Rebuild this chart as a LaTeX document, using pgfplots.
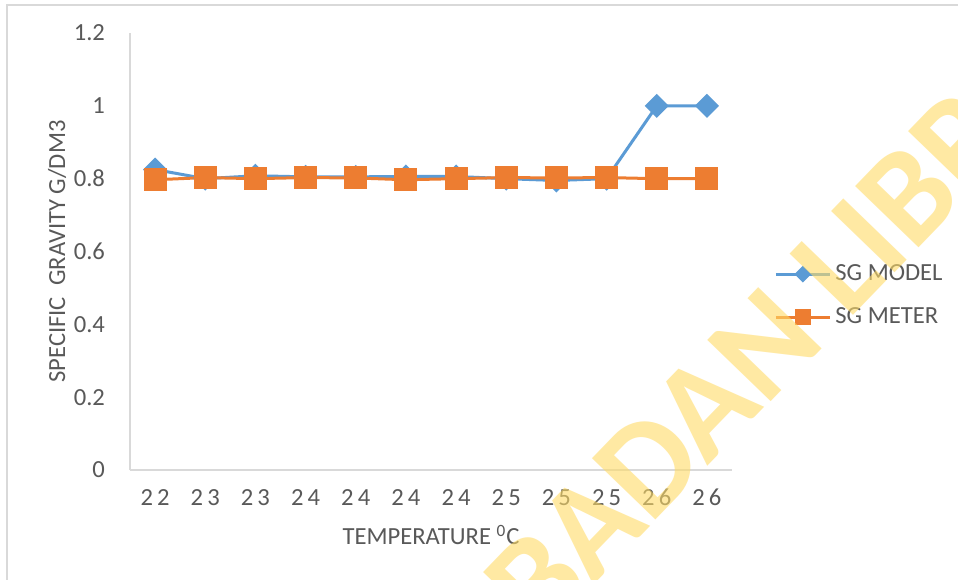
\documentclass[border=0pt]{standalone}
\usepackage{pgfplots}
\pgfplotsset{compat=1.18}
\usepackage{fontspec}
\setmainfont{Carlito}

\definecolor{sgblue}{HTML}{5B9BD5}
\definecolor{sgorange}{HTML}{ED7D31}
\definecolor{axgray}{HTML}{D9D9D9}
\definecolor{txtgray}{HTML}{595959}
\definecolor{wmark}{HTML}{FFDB66}

\begin{document}
\begin{tikzpicture}
	% whole picture: 958x579 px at 0.5pt per px, axis origin at px (130,470)
	\useasboundingbox (-65pt,-54.5pt) rectangle (414pt,235pt);
	\clip (-65pt,-54.5pt) rectangle (414pt,235pt);
	\fill[white] (-65pt,-54.5pt) rectangle (414pt,235pt);
	\draw[axgray, line width=1.2pt] (-61.5pt,-60pt) -- (-61.5pt,232.5pt) -- (420pt,232.5pt);
	\begin{axis}[
		scale only axis,
		width=301pt,
		height=218.5pt,
		xmin=-0.5, xmax=11.5,
		ymin=0, ymax=1.2,
		axis x line*=bottom,
		axis y line*=left,
		axis line style={axgray, line width=0.8pt},
		major tick length=0pt,
		xtick={0,...,11},
		xticklabels={2\,2,2\,3,2\,3,2\,4,2\,4,2\,4,2\,4,2\,5,2\,5,2\,5,2\,6,2\,6},
		ytick={0,0.2,...,1.2},
		yticklabel style={/pgf/number format/fixed, /pgf/number format/precision=1, xshift=-9pt},
		xticklabel style={yshift=-6pt},
		/pgf/number format/assume math mode=true,
		tick label style={font=\fontsize{12.3}{14}\selectfont, text=txtgray},
		label style={font=\fontsize{12.3}{14}\selectfont, text=txtgray},
		xlabel={TEMPERATURE \textsuperscript{0}C},
		ylabel={SPECIFIC\ \ GRAVITY G/DM3},
		xlabel style={at={(axis description cs:0.5,-0.149)}, anchor=center},
		ylabel style={at={(axis description cs:-0.121,0.5)}, anchor=center},
		legend style={draw=none, fill=none, at={(1,0.399)}, anchor=west, xshift=18pt,
			font=\fontsize{12.3}{14}\selectfont, text=txtgray, row sep=8pt},
		legend cell align=left,
		]
		\addplot[sgblue, line width=1.5pt, mark=square*, mark size=3.5pt,
			mark options={rotate=45, solid},
			legend image code/.code={
				\draw[sgblue, line width=1.5pt] (0pt,0pt) -- (27pt,0pt);
				\fill[sgblue, rotate around={45:(13.5pt,0pt)}] (11.3pt,-2.2pt) rectangle (15.7pt,2.2pt);
			}] coordinates {
			(0,0.825) (1,0.80) (2,0.808) (3,0.805) (4,0.805) (5,0.806)
			(6,0.806) (7,0.80) (8,0.795) (9,0.80) (10,1.0) (11,1.0)
		};
		\addlegendentry{SG MODEL}
		\addplot[sgorange, line width=1.5pt, mark=square*, mark size=5pt,
			legend image code/.code={
				\draw[sgorange, line width=1.5pt] (0pt,0pt) -- (27pt,0pt);
				\fill[sgorange] (10.3pt,-3.2pt) rectangle (16.7pt,3.2pt);
			}] coordinates {
			(0,0.797) (1,0.803) (2,0.80) (3,0.803) (4,0.802) (5,0.797)
			(6,0.80) (7,0.803) (8,0.802) (9,0.803) (10,0.80) (11,0.80)
		};
		\addlegendentry{SG METER}
	\end{axis}
	% watermark
	\node[rotate=46, text=wmark, opacity=0.6, inner sep=0pt, font=\bfseries\fontsize{68}{72}\selectfont]
		at (342.5pt,89pt) {IBADAN LIBRARY};
\end{tikzpicture}
\end{document}
